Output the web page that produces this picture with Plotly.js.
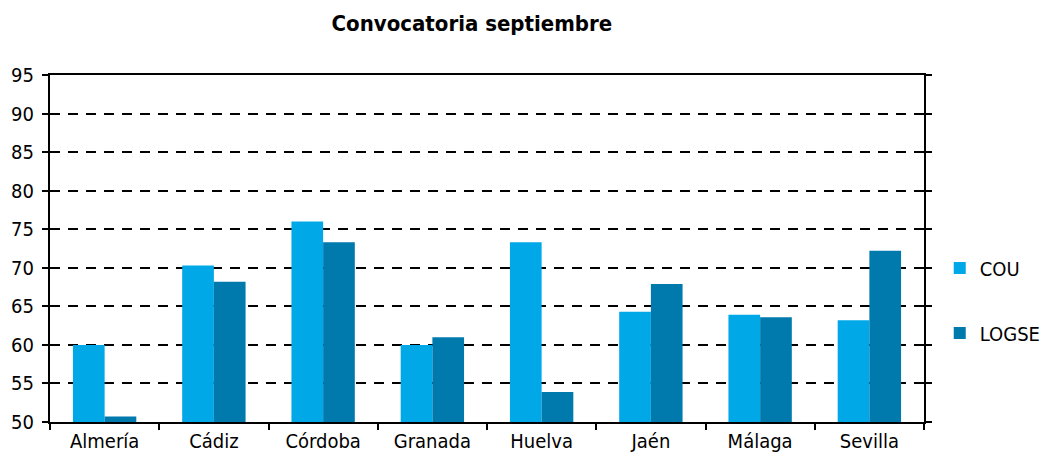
<!DOCTYPE html>
<html>
<head>
<meta charset="utf-8">
<script src="https://cdn.plot.ly/plotly-3.0.1.min.js"></script>
<style>
  body { margin: 0; background: #fff; }
  #grafico { width: 1058px; height: 464px; }
</style>
</head>
<body>
<div id="grafico"></div>
<script>
const provincias = ["Almería", "Cádiz", "Córdoba", "Granada", "Huelva", "Jaén", "Málaga", "Sevilla"];
const cou = [60.0, 70.3, 76.0, 60.0, 73.3, 64.3, 63.9, 63.2];
const logse = [50.7, 68.2, 73.3, 61.0, 53.9, 67.9, 63.6, 72.2];
const yTicks = [50, 55, 60, 65, 70, 75, 80, 85, 90, 95];

const fuente = "DejaVu Sans Condensed, Liberation Sans Narrow, Arial Narrow, sans-serif";

const trazas = [
    {
        x: provincias, y: cou, name: "COU", type: "bar",
        legendgroup: "a",
        marker: { color: "#00A8E8", line: { width: 0 } }
    },
    {
        x: provincias, y: logse, name: "LOGSE", type: "bar",
        legendgroup: "b",
        marker: { color: "#0079AD", line: { width: 0 } }
    }
];

const layout = {
    width: 1058,
    height: 464,
    margin: { l: 50, r: 128, t: 75, b: 42 },
    paper_bgcolor: "#fff",
    plot_bgcolor: "#fff",
    font: { family: fuente, size: 20, color: "#000" },
    title: {
        text: "<b>Convocatoria septiembre</b>",
        x: 0.446, xanchor: "center",
        y: 0.95, yanchor: "middle",
        font: { family: fuente, size: 22, color: "#000" }
    },
    barmode: "group",
    bargap: 0.42,
    bargroupgap: 0,
    showlegend: true,
    legend: {
        x: 1.018, xanchor: "left",
        y: 0.35, yanchor: "middle",
        font: { family: fuente, size: 20 },
        traceorder: "grouped",
        tracegroupgap: 36,
        bgcolor: "rgba(0,0,0,0)"
    },
    xaxis: {
        type: "category",
        showline: true, linecolor: "#000", linewidth: 2,
        mirror: true,
        ticks: "outside", ticklen: 6, tickwidth: 2, tickcolor: "#000",
        tickson: "boundaries",
        showgrid: false,
        zeroline: false
    },
    yaxis: {
        range: [50, 95],
        tickvals: yTicks,
        showline: true, linecolor: "#000", linewidth: 2,
        mirror: "ticks",
        ticks: "outside", ticklen: 6, tickwidth: 2, tickcolor: "#000",
        ticklabelstandoff: 4,
        showgrid: true, gridcolor: "#000", gridwidth: 2,
        griddash: "10px,8px",
        zeroline: false
    }
};

Plotly.newPlot("grafico", trazas, layout, { displayModeBar: false });
</script>
</body>
</html>
